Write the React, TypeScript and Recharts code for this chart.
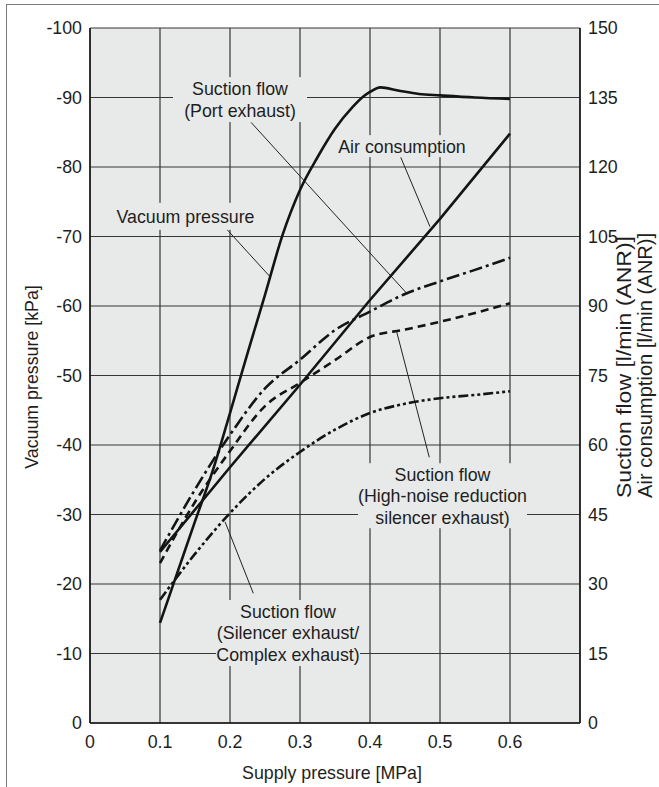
import React from 'react';
import {
  LineChart,
  Line,
  XAxis,
  YAxis,
  CartesianGrid,
  ReferenceLine,
  ReferenceDot,
} from 'recharts';

// ---------- data ----------
const xTicks = [0, 0.1, 0.2, 0.3, 0.4, 0.5, 0.6];
const leftTicks = [0, -10, -20, -30, -40, -50, -60, -70, -80, -90, -100];
const rightTicks = [0, 15, 30, 45, 60, 75, 90, 105, 120, 135, 150];

// Vacuum pressure [kPa] (left axis)
const vacuumX = [0.1, 0.125, 0.15, 0.175, 0.2, 0.225, 0.25, 0.275, 0.3, 0.325, 0.35, 0.375, 0.39, 0.4, 0.415, 0.44, 0.47, 0.5, 0.55, 0.6];
const vacuumY = [-14.4, -21.7, -29, -36.2, -44.6, -53.2, -61.6, -70.2, -76.7, -81.4, -85.5, -88.6, -90.1, -90.8, -91.45, -91.0, -90.5, -90.3, -90.0, -89.8];

// Air consumption [l/min (ANR)] (right axis)
const airX = [0.1, 0.2, 0.3, 0.4, 0.5, 0.6];
const airY = [36.9, 55.2, 73.0, 91.3, 108.8, 127.2];

// Suction flow [l/min (ANR)] (right axis)
const flowX = [0.1, 0.15, 0.2, 0.25, 0.3, 0.35, 0.4, 0.45, 0.5, 0.55, 0.6];
const portExhaustY = [37.2, 50.4, 62.2, 72.2, 78.4, 84.8, 88.8, 92.6, 95.3, 97.8, 100.4];
const highNoiseY = [34.5, 47.7, 58.7, 68.4, 73.4, 78.3, 83.3, 84.9, 86.6, 88.5, 90.6];
const silencerY = [26.6, 36.5, 45.3, 52.7, 58.5, 63.3, 66.9, 68.9, 70.1, 70.8, 71.6];

// annotation labels (left-axis coordinates)
const portLabel = ['Suction flow', '(Port exhaust)'];
const vacuumLabel = ['Vacuum pressure'];
const airLabel = ['Air consumption'];
const highNoiseLabel = ['Suction flow', '(High-noise reduction', 'silencer exhaust)'];
const silencerLabel = ['Suction flow', '(Silencer exhaust/', 'Complex exhaust)'];

// leader lines [x1, y1, x2, y2] in data coords (left axis)
const leaders = [
  [0.23, -86.43, 0.4524, -61.83],
  [0.1929, -71.32, 0.2571, -64.22],
  [0.4439, -81.4, 0.4857, -71.41],
  [0.4381, -56.3, 0.4847, -38.23],
  [0.1929, -28.96, 0.2333, -18.66],
];

const toPts = (xs: number[], ys: number[]) => xs.map((x, i) => ({ x, y: ys[i] }));
const vacuumData = toPts(vacuumX, vacuumY);
const airData = toPts(airX, airY);
const portData = toPts(flowX, portExhaustY);
const highNoiseData = toPts(flowX, highNoiseY);
const silencerData = toPts(flowX, silencerY);

// ---------- style ----------
const FONT = "'Liberation Sans', Arial, Helvetica, sans-serif";
const BG = '#e8e9e9';
const INK = '#141414';
const TEXT = '#1e1e1e';

const boxLabel = (lines: string[], w: number, h: number) => (p: any) => {
  const cx = p.cx;
  const cy = p.cy;
  const lh = 21.5;
  const y0 = cy - ((lines.length - 1) * lh) / 2;
  return (
    <g>
      <rect x={cx - w / 2} y={cy - h / 2} width={w} height={h} fill={BG} />
      {lines.map((t, i) => (
        <text
          key={i}
          x={cx}
          y={y0 + i * lh + 6.4}
          textAnchor="middle"
          fontFamily={FONT}
          fontSize={17.8}
          fill={TEXT}
        >
          {t}
        </text>
      ))}
    </g>
  );
};

const tickStyle = { fontFamily: FONT, fontSize: 17.8, fill: TEXT };

export default function App() {
  return (
    <div
      style={{
        position: 'fixed',
        left: 0,
        top: 0,
        width: 659,
        height: 787,
        overflow: 'hidden',
        background: '#fff',
      }}
    >
      <div
        style={{
          position: 'absolute',
          left: 6,
          top: 4,
          width: 800,
          height: 900,
          borderTop: '1.5px solid #7a7a7a',
          borderLeft: '1.5px solid #7a7a7a',
        }}
      />
      <div style={{ position: 'absolute', left: 0, top: 0 }}>
        <LineChart width={659} height={787} margin={{ top: 28, right: 0, bottom: 0, left: 0 }}>
          <CartesianGrid
            yAxisId="left"
            stroke="#363636"
            strokeWidth={1.2}
            fill={BG}
            fillOpacity={1}
          />
          <XAxis
            type="number"
            dataKey="x"
            domain={[0, 0.7]}
            ticks={xTicks}
            height={64}
            tickLine={false}
            tickMargin={6}
            axisLine={{ stroke: INK, strokeWidth: 1.5 }}
            tick={tickStyle}
            allowDataOverflow
            label={{
              content: () => (
                <text x={332} y={779} textAnchor="middle" fontFamily={FONT} fontSize={17.8} fill={TEXT}>
                  Supply pressure [MPa]
                </text>
              ),
            }}
          />
          <YAxis
            yAxisId="left"
            orientation="left"
            type="number"
            domain={[-100, 0]}
            reversed
            ticks={leftTicks}
            width={90}
            tickLine={false}
            axisLine={{ stroke: INK, strokeWidth: 1.5 }}
            tick={tickStyle}
            allowDataOverflow
            label={{
              content: () => (
                <text
                  x={37.5}
                  y={377}
                  transform="rotate(-90 37.5 377)"
                  textAnchor="middle"
                  fontFamily={FONT}
                  fontSize={17.8}
                  fill={TEXT}
                >
                  Vacuum pressure [kPa]
                </text>
              ),
            }}
          />
          <YAxis
            yAxisId="right"
            orientation="right"
            type="number"
            domain={[0, 150]}
            ticks={rightTicks}
            width={79}
            tickLine={false}
            axisLine={{ stroke: INK, strokeWidth: 1.5 }}
            tick={tickStyle}
            allowDataOverflow
            label={{
              content: () => (
                <g fontFamily={FONT} fontSize={20} fill={TEXT}>
                  <text
                    x={631}
                    y={498}
                    transform="rotate(-90 631 498)"
                    textAnchor="start"
                    textLength={262}
                    lengthAdjust="spacingAndGlyphs"
                  >
                    Suction flow [l/min (ANR)]
                  </text>
                  <text
                    x={652}
                    y={498}
                    transform="rotate(-90 652 498)"
                    textAnchor="start"
                    textLength={265}
                    lengthAdjust="spacingAndGlyphs"
                  >
                    Air consumption [l/min (ANR)]
                  </text>
                </g>
              ),
            }}
          />

          {leaders.map((l, i) => (
            <ReferenceLine
              key={'ld' + i}
              yAxisId="left"
              segment={[
                { x: l[0], y: l[1] },
                { x: l[2], y: l[3] },
              ]}
              stroke="#222"
              strokeWidth={1}
              ifOverflow="visible"
            />
          ))}

          <ReferenceDot yAxisId="left" x={0.2143} y={-89.7} r={0} ifOverflow="visible" shape={boxLabel(portLabel, 134, 45)} />
          <ReferenceDot yAxisId="left" x={0.1364} y={-72.9} r={0} ifOverflow="visible" shape={boxLabel(vacuumLabel, 154, 27)} />
          <ReferenceDot yAxisId="left" x={0.4457} y={-83.0} r={0} ifOverflow="visible" shape={boxLabel(airLabel, 140, 22)} />
          <ReferenceDot yAxisId="left" x={0.5036} y={-32.7} r={0} ifOverflow="visible" shape={boxLabel(highNoiseLabel, 169, 65)} />
          <ReferenceDot yAxisId="left" x={0.2829} y={-12.95} r={0} ifOverflow="visible" shape={boxLabel(silencerLabel, 144, 66)} />

          <Line
            yAxisId="left"
            data={vacuumData}
            dataKey="y"
            type="monotone"
            stroke={INK}
            strokeWidth={2.6}
            dot={false}
            isAnimationActive={false}
          />
          <Line
            yAxisId="right"
            data={airData}
            dataKey="y"
            type="linear"
            stroke={INK}
            strokeWidth={2.6}
            dot={false}
            isAnimationActive={false}
          />
          <Line
            yAxisId="right"
            data={portData}
            dataKey="y"
            type="monotone"
            stroke={INK}
            strokeWidth={2.6}
            strokeDasharray="13 4 3 4"
            dot={false}
            isAnimationActive={false}
          />
          <Line
            yAxisId="right"
            data={highNoiseData}
            dataKey="y"
            type="monotone"
            stroke={INK}
            strokeWidth={2.6}
            strokeDasharray="8 5"
            dot={false}
            isAnimationActive={false}
          />
          <Line
            yAxisId="right"
            data={silencerData}
            dataKey="y"
            type="monotone"
            stroke={INK}
            strokeWidth={2.6}
            strokeDasharray="10 3 3 3 3 3"
            dot={false}
            isAnimationActive={false}
          />
        </LineChart>
      </div>
    </div>
  );
}
